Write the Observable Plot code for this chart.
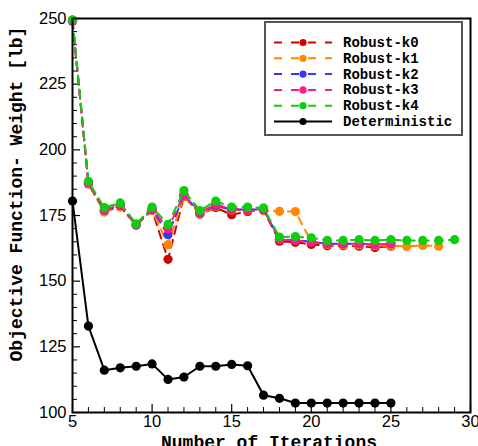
<!DOCTYPE html>
<html>
<head>
<meta charset="utf-8">
<script src="https://cdn.jsdelivr.net/npm/d3@7"></script>
<script src="https://cdn.jsdelivr.net/npm/@observablehq/plot@0.6"></script>
<style>
  html, body { margin: 0; padding: 0; background: #fff; overflow: hidden; }
  #wrap { position: relative; width: 478px; height: 446px; overflow: hidden; }
  #wrap > svg { position: absolute; left: 0; top: 0; }
  .title { position: absolute; font-family: "Liberation Mono", "DejaVu Sans Mono", monospace; font-weight: bold; font-size: 18px; line-height: 18px; color: #000; white-space: nowrap; }
  #legend { position: absolute; left: 264px; top: 21px; width: 195px; height: 111px; border: 2px solid #555; background: #fff; }
  #legend svg { position: absolute; left: 0; top: 0; }
</style>
</head>
<body>
<div id="wrap"></div>
<script>
const iterations = [5,6,7,8,9,10,11,12,13,14,15,16,17,18,19,20,21,22,23,24,25,26,27,28,29];
const seriesNames = ["Robust-k0","Robust-k1","Robust-k2","Robust-k3","Robust-k4","Deterministic"];
const seriesColors = ["#d40000","#ff8800","#3838f0","#ff1a8c","#11cc11","#000000"];
const robustK0 = [249,187,176.5,178.3,171.3,177,158.3,182.3,175.5,178,175.3,176.5,177,165.2,164.8,164,163.5,163.5,163.3,162.8,163.3];
const robustK1 = [249.3,187.2,176.3,178.3,171.5,177,163.9,182.3,175.5,178.5,177,177,176.8,176.6,176.5,165,164,163.8,163.8,163.5,163.5,163.2,163.6,163.3];
const robustK2 = [249.3,187.5,177,178.8,171.5,177.3,167.7,182.8,176,178.8,177.3,177.3,177.2,166,165.6,165,164.3,164.2,164.2,164,164.2];
const robustK3 = [249.3,187.5,177.2,179,171.6,177.5,170,183,176.2,179.2,177.5,177.5,177.3,165.8,165.5,164.8,164.3,164.2,164.3,164,164.3];
const robustK4 = [249.5,188,178,179.8,171.8,178.2,171.6,184.5,176.9,180.5,178.2,178.2,177.9,166.8,167,166.5,165.5,165.5,165.8,165.5,165.8,165.5,165.5,165.5,165.8];
const deterministic = [180.5,132.9,116.1,117.0,117.6,118.5,112.6,113.5,117.6,117.6,118.3,117.8,106.6,105.4,103.6,103.6,103.6,103.6,103.6,103.6,103.6];
const xTicks = [5,10,15,20,25,30];
const yTicks = [100,125,150,175,200,225,250];

const allValues = [robustK0, robustK1, robustK2, robustK3, robustK4, deterministic];
const rows = allValues.map((vals, k) => vals.map((v, i) => ({x: iterations[i], y: v, s: seriesNames[k], c: seriesColors[k]})));

const W = 478, H = 446, mL = 72, mR = 8, mT = 18, mB = 34;
const plotH = H - mT - mB, plotW = W - mL - mR;
const minorX = d3.range(5, 31, 1).filter(v => v % 5 !== 0);
const minorY = d3.range(100, 251, 5).filter(v => v % 25 !== 0);

const marks = [
  Plot.tickX(minorX, {x: d => d, insetTop: plotH - 5, stroke: "#000", strokeWidth: 1}),
  Plot.tickX(xTicks, {x: d => d, insetTop: plotH - 8, stroke: "#000", strokeWidth: 1.2}),
  Plot.tickY(minorY, {y: d => d, insetRight: plotW - 5, stroke: "#000", strokeWidth: 1}),
  Plot.tickY(yTicks, {y: d => d, insetRight: plotW - 8, stroke: "#000", strokeWidth: 1.2}),
  Plot.axisX({ticks: xTicks, tickSize: 0, tickPadding: 3, label: null, fontSize: 16.5}),
  Plot.axisY({ticks: yTicks, tickSize: 0, tickPadding: 6, label: null, fontSize: 16.5})
];
rows.forEach((data, k) => {
  const dashed = k < 5;
  marks.push(Plot.line(data, {x: "x", y: "y", stroke: seriesColors[k], strokeWidth: 2, strokeDasharray: dashed ? "8,6" : null}));
  marks.push(Plot.dot(data, {x: "x", y: "y", r: 4.6, fill: seriesColors[k], stroke: "none"}));
});
marks.push(Plot.frame({stroke: "#000", strokeWidth: 2}));

const chart = Plot.plot({
  width: W, height: H,
  marginLeft: mL, marginRight: mR, marginTop: mT, marginBottom: mB,
  style: {fontFamily: "'Liberation Sans', Arial, Helvetica, sans-serif", fontSize: "16.5px", color: "#000", background: "#fff"},
  x: {domain: [5, 30]},
  y: {domain: [100, 250]},
  marks
});
const wrap = document.getElementById("wrap");
wrap.appendChild(chart);

// axis titles
const xt = document.createElement("div");
xt.className = "title";
xt.textContent = "Number of Iterations";
xt.style.left = "269px"; xt.style.top = "434px"; xt.style.transform = "translateX(-50%)";
wrap.appendChild(xt);
const yt = document.createElement("div");
yt.className = "title";
yt.textContent = "Objective Function- Weight [lb]";
yt.style.left = "17px"; yt.style.top = "194px";
yt.style.transform = "translate(-50%, -50%) rotate(-90deg)";
wrap.appendChild(yt);

// legend
const lg = document.createElement("div");
lg.id = "legend";
wrap.appendChild(lg);
const ls = d3.select(lg).append("svg").attr("width", 195).attr("height", 111);
seriesNames.forEach((name, k) => {
  const cy = 19.5 + k * 15.8;
  const g = ls.append("g");
  g.append("line").attr("x1", 8).attr("x2", 66).attr("y1", cy).attr("y2", cy)
    .attr("stroke", seriesColors[k]).attr("stroke-width", 2)
    .attr("stroke-dasharray", k < 5 ? "8,9" : null);
  g.append("circle").attr("cx", 37).attr("cy", cy).attr("r", 3.6).attr("fill", seriesColors[k]);
  g.append("text").attr("x", 77).attr("y", cy + 4.5).text(name)
    .attr("font-family", "'Liberation Mono', monospace").attr("font-weight", "bold").attr("font-size", 14);
});
</script>
</body>
</html>
